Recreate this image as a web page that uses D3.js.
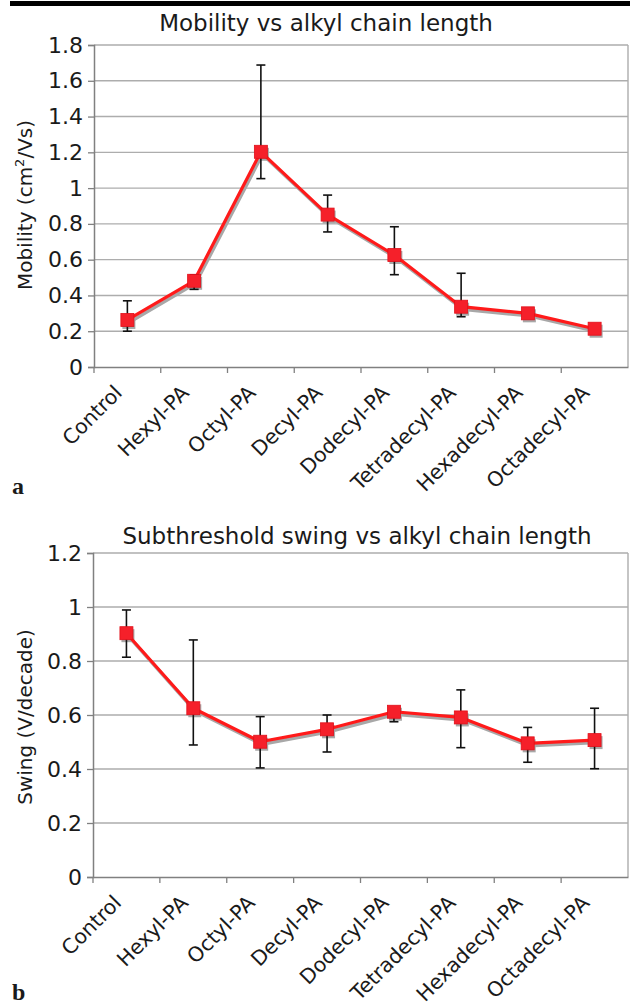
<!DOCTYPE html>
<html><head><meta charset="utf-8">
<script src="https://cdn.jsdelivr.net/npm/d3@7"></script>
<style>body{margin:0;background:#fff}svg{display:block}text{font-family:"DejaVu Sans",Verdana,sans-serif;fill:#1a1a1a}</style>
</head><body>
<script>
const categories = ["Control","Hexyl-PA","Octyl-PA","Decyl-PA","Dodecyl-PA","Tetradecyl-PA","Hexadecyl-PA","Octadecyl-PA"];
const mobility     = [0.263, 0.482, 1.203, 0.852, 0.626, 0.337, 0.300, 0.214];
const mobilityLow  = [0.200, 0.434, 1.053, 0.755, 0.516, 0.281, 0.285, 0.205];
const mobilityHigh = [0.370, 0.515, 1.688, 0.961, 0.784, 0.524, 0.315, 0.223];
const mobilityTicks = [0, 0.2, 0.4, 0.6, 0.8, 1, 1.2, 1.4, 1.6, 1.8];
const swing     = [0.903, 0.625, 0.501, 0.547, 0.612, 0.591, 0.495, 0.507];
const swingLow  = [0.814, 0.489, 0.404, 0.463, 0.575, 0.479, 0.425, 0.401];
const swingHigh = [0.989, 0.878, 0.594, 0.600, 0.630, 0.693, 0.554, 0.625];
const swingTicks = [0, 0.2, 0.4, 0.6, 0.8, 1, 1.2];

const W = 630, H = 1005;
const svg = d3.select("body").append("svg").attr("width", W).attr("height", H);
svg.append("rect").attr("width", W).attr("height", H).attr("fill", "#fff");
svg.append("rect").attr("x", 10).attr("y", 1).attr("width", 620).attr("height", 5).attr("fill", "#000");

function panel(cfg) {
  const x = d3.scaleBand().domain(categories).range([cfg.left, cfg.right]);
  const y = d3.scaleLinear().domain([0, cfg.max]).range([cfg.bottom, cfg.top]);
  const g = svg.append("g");
  // grid
  g.selectAll(".grid").data(cfg.ticks.filter(t => t > 0)).join("line")
    .attr("x1", cfg.left).attr("x2", cfg.right)
    .attr("y1", d => y(d)).attr("y2", d => y(d))
    .attr("stroke", "#adadad").attr("stroke-width", 1.4);
  // right border
  g.append("line").attr("x1", cfg.right).attr("x2", cfg.right).attr("y1", cfg.top).attr("y2", cfg.bottom)
    .attr("stroke", "#adadad").attr("stroke-width", 1.4);
  // y axis
  const ya = d3.axisLeft(y).tickValues(cfg.ticks).tickSize(6).tickPadding(5).tickFormat(d3.format("~g"));
  const yg = g.append("g").attr("transform", `translate(${cfg.left},0)`).call(ya);
  yg.select(".domain").attr("stroke", "#808080").attr("stroke-width", 1.5);
  yg.selectAll(".tick line").attr("stroke", "#808080").attr("stroke-width", 1.3);
  yg.selectAll(".tick text").attr("font-size", 22).attr("font-family", "DejaVu Sans").attr("fill", "#1a1a1a");
  // x axis
  const xa = d3.axisBottom(x).tickSize(0).tickFormat("");
  const xg = g.append("g").attr("transform", `translate(0,${cfg.bottom})`).call(xa);
  xg.select(".domain").attr("stroke", "#808080").attr("stroke-width", 1.5);
  xg.selectAll(".tick").remove();
  g.selectAll(".xtick").data(categories).join("line")
    .attr("x1", d => x(d)).attr("x2", d => x(d))
    .attr("y1", cfg.bottom).attr("y2", cfg.bottom + 6)
    .attr("stroke", "#808080").attr("stroke-width", 1.3);
  g.selectAll(".xlab").data(categories).join("text")
    .attr("transform", d => `translate(${x(d) + x.bandwidth()/2 - 4},${cfg.bottom + 27}) rotate(-45)`)
    .attr("text-anchor", "end").attr("font-size", 20.5).text(d => d);
  // title
  g.append("text").attr("x", cfg.titleX).attr("y", cfg.titleY).attr("text-anchor", "middle")
    .attr("font-size", 23).text(cfg.title);
  // y label
  const yl = g.append("text").attr("transform", `translate(${cfg.ylabX},${cfg.ylabY}) rotate(-90)`)
    .attr("text-anchor", "middle").attr("font-size", 20);
  cfg.ylabel(yl);
  // panel letter
  svg.append("text").attr("x", 12).attr("y", cfg.letterY)
    .attr("font-weight", "bold").attr("font-size", 24).style("font-family", "'Liberation Serif', serif").text(cfg.letter);

  const cx = d => x(d) + x.bandwidth() / 2;
  const pts = categories.map((c, i) => [cx(c), y(cfg.vals[i])]);
  const line = d3.line();
  // shadow
  g.append("path").attr("d", line(pts)).attr("fill", "none").attr("stroke", "#a8a8a8")
    .attr("stroke-width", 3.5).attr("transform", "translate(1.5,2.5)").attr("stroke-linejoin", "round");
  g.selectAll(".mshadow").data(categories).join("rect")
    .attr("x", d => cx(d) - 6.5 + 1.5).attr("y", (d, i) => y(cfg.vals[i]) - 6.5 + 2.5)
    .attr("width", 13).attr("height", 13).attr("fill", "#a8a8a8");
  g.append("path").attr("d", line(pts)).attr("fill", "none").attr("stroke", "#ff1a1a")
    .attr("stroke-width", 3.2).attr("stroke-linejoin", "round");
  // error bars
  const eb = g.selectAll(".eb").data(categories).join("g");
  eb.append("line").attr("x1", d => cx(d)).attr("x2", d => cx(d))
    .attr("y1", (d, i) => y(cfg.hi[i])).attr("y2", (d, i) => y(cfg.lo[i]))
    .attr("stroke", "#111").attr("stroke-width", 1.6);
  eb.append("line").attr("x1", d => cx(d) - 4.5).attr("x2", d => cx(d) + 4.5)
    .attr("y1", (d, i) => y(cfg.hi[i])).attr("y2", (d, i) => y(cfg.hi[i]))
    .attr("stroke", "#111").attr("stroke-width", 1.6);
  eb.append("line").attr("x1", d => cx(d) - 4.5).attr("x2", d => cx(d) + 4.5)
    .attr("y1", (d, i) => y(cfg.lo[i])).attr("y2", (d, i) => y(cfg.lo[i]))
    .attr("stroke", "#111").attr("stroke-width", 1.6);
  // markers
  g.selectAll(".mk").data(categories).join("rect")
    .attr("x", d => cx(d) - 6.5).attr("y", (d, i) => y(cfg.vals[i]) - 6.5)
    .attr("width", 13).attr("height", 13).attr("fill", "#f5202a").attr("stroke", "#e0101a").attr("stroke-width", 0.8);
}

panel({
  left: 94, right: 628, top: 45, bottom: 367, max: 1.8, ticks: mobilityTicks,
  vals: mobility, lo: mobilityLow, hi: mobilityHigh,
  title: "Mobility vs alkyl chain length", titleX: 326, titleY: 31,
  ylabX: 32, ylabY: 205, letter: "a", letterY: 494,
  ylabel: t => { t.append("tspan").text("Mobility (cm");
                 t.append("tspan").attr("font-size", 13).attr("dy", -8).text("2");
                 t.append("tspan").attr("dy", 8).text("/Vs)"); }
});
panel({
  left: 93, right: 628, top: 553, bottom: 877, max: 1.2, ticks: swingTicks,
  vals: swing, lo: swingLow, hi: swingHigh,
  title: "Subthreshold swing vs alkyl chain length", titleX: 357, titleY: 544,
  ylabX: 32, ylabY: 717, letter: "b", letterY: 1000,
  ylabel: t => t.text("Swing (V/decade)")
});
</script>
</body></html>
